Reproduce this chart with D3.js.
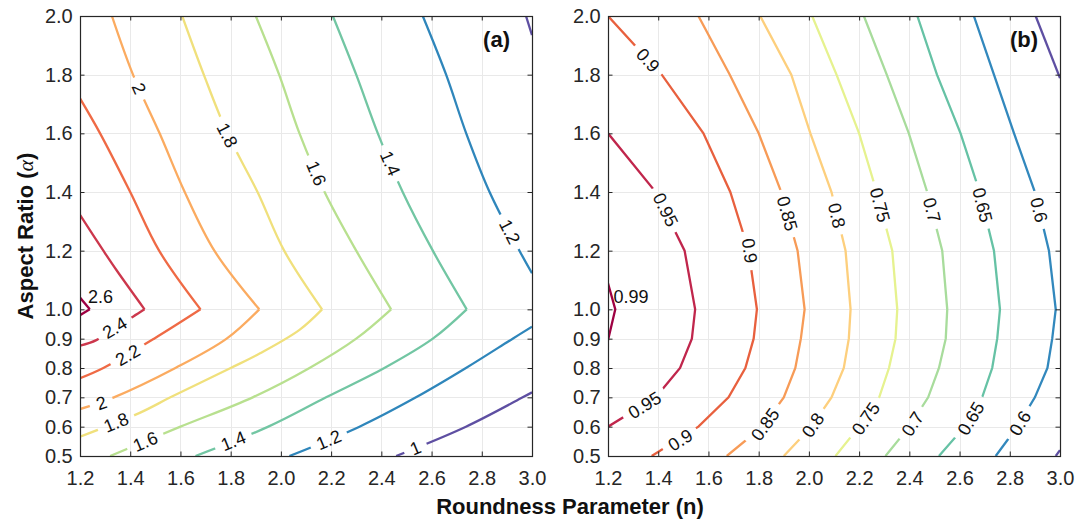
<!DOCTYPE html>
<html>
<head>
<meta charset="utf-8">
<script src="https://cdn.jsdelivr.net/npm/d3@7"></script>
<style>
  body { margin: 0; background: #fff; }
  svg { display: block; font-family: "Liberation Sans", Arial, Helvetica, sans-serif; }
</style>
</head>
<body>
<svg id="chart" width="1090" height="524"></svg>
<script>
// Axis ticks (n on x, alpha on y)
const xTicks = [1.2, 1.4, 1.6, 1.8, 2.0, 2.2, 2.4, 2.6, 2.8, 3.0];
const yTicks = [0.5, 0.6, 0.7, 0.8, 0.9, 1.0, 1.2, 1.4, 1.6, 1.8, 2.0];

// Panel (a): contour levels and iso-lines, points are [n, alpha]
const levelsA = [2.6, 2.4, 2.2, 2.0, 1.8, 1.6, 1.4, 1.2, 1.0];
const a26 = [[1.2, 1.04], [1.239, 1.0], [1.2, 0.98]];
const a24 = [[1.2, 1.322], [1.293, 1.2], [1.345, 1.134], [1.457, 1.0], [1.411, 0.975], [1.338, 0.938], [1.265, 0.895], [1.2, 0.876]];
const a22 = [[1.2, 1.719], [1.28, 1.6], [1.40, 1.4], [1.515, 1.2], [1.68, 1.0], [1.495, 0.9], [1.293, 0.8], [1.2, 0.765]];
const a20 = [[1.327, 2.0], [1.411, 1.8], [1.517, 1.6], [1.617, 1.4], [1.735, 1.2], [1.914, 1.0], [1.784, 0.9], [1.58, 0.8], [1.335, 0.7], [1.2, 0.66]];
const a18 = [[1.607, 2.0], [1.693, 1.8], [1.787, 1.6], [1.907, 1.4], [2.013, 1.2], [2.164, 1.0], [2.074, 0.93], [1.917, 0.85], [1.80, 0.8], [1.56, 0.7], [1.44, 0.648], [1.2, 0.566]];
const a16 = [[1.9, 2.0], [1.993, 1.8], [2.074, 1.6], [2.174, 1.4], [2.30, 1.2], [2.439, 1.0], [2.30, 0.9], [2.114, 0.8], [1.888, 0.7], [1.60, 0.6], [1.32, 0.5]];
const a14 = [[2.207, 2.0], [2.30, 1.8], [2.386, 1.6], [2.485, 1.4], [2.605, 1.2], [2.74, 1.0], [2.605, 0.9], [2.412, 0.8], [2.18, 0.7], [1.95, 0.6], [1.66, 0.5]];
const a12top = [[2.565, 2.0], [2.658, 1.8], [2.738, 1.6], [2.831, 1.4], [2.95, 1.2], [3.0, 1.123]];
const a12bot = [[3.0, 0.941], [2.923, 0.9], [2.737, 0.8], [2.538, 0.7], [2.313, 0.6], [2.034, 0.5]];
const a10top = [[2.976, 2.0], [3.0, 1.935]];
const a10bot = [[3.0, 0.717], [2.963, 0.7], [2.737, 0.6], [2.459, 0.5]];
const linesA = [[2.6, a26], [2.4, a24], [2.2, a22], [2.0, a20], [1.8, a18], [1.6, a16], [1.4, a14],
                [1.2, a12top], [1.2, a12bot], [1.0, a10top], [1.0, a10bot]];
// inline labels [level, n, alpha]
const labelsA = [[2.4, 1.338, 0.938], [2.2, 1.39, 0.845], [2.0, 1.436, 1.753], [2.0, 1.285, 0.682],
                 [1.8, 1.787, 1.594], [1.8, 1.343, 0.615], [1.6, 2.142, 1.464], [1.6, 1.46, 0.55],
                 [1.4, 2.436, 1.498], [1.4, 1.81, 0.552], [1.2, 2.912, 1.265], [1.2, 2.19, 0.556],
                 [1.0, 2.535, 0.528]];
const freeLabelsA = [[2.6, 1.282, 1.043]];
const colorsA = ['#9e0142', '#cc374c', '#ef6a45', '#fbab60', '#f0e07c', '#b8e08f', '#72c6a3', '#2f86bb', '#5e4fa2'];

// Panel (b): contour levels and iso-lines, points are [n, alpha]
const levelsB = [0.99, 0.95, 0.9, 0.85, 0.8, 0.75, 0.7, 0.65, 0.6, 0.55];
const b99 = [[1.2, 1.089], [1.229, 1.0], [1.2, 0.895]];
const b95 = [[1.2, 1.6], [1.39, 1.4], [1.505, 1.2], [1.547, 1.0], [1.534, 0.9], [1.487, 0.8], [1.39, 0.7], [1.2, 0.6]];
const b90 = [[1.2, 2.0], [1.414, 1.8], [1.58, 1.6], [1.687, 1.4], [1.76, 1.2], [1.793, 1.0], [1.78, 0.9], [1.747, 0.8], [1.68, 0.7], [1.56, 0.6], [1.374, 0.5]];
const b85 = [[1.56, 2.0], [1.685, 1.8], [1.80, 1.6], [1.89, 1.4], [1.955, 1.2], [1.983, 1.0], [1.968, 0.9], [1.946, 0.8], [1.9, 0.7], [1.815, 0.6], [1.673, 0.5]];
const b80 = [[1.806, 2.0], [1.93, 1.8], [2.006, 1.6], [2.09, 1.4], [2.146, 1.2], [2.166, 1.0], [2.159, 0.9], [2.139, 0.8], [2.09, 0.7], [2.01, 0.6], [1.9, 0.5]];
const b75 = [[2.013, 2.0], [2.11, 1.8], [2.2, 1.6], [2.27, 1.4], [2.332, 1.2], [2.352, 1.0], [2.345, 0.9], [2.319, 0.8], [2.28, 0.7], [2.2, 0.6], [2.106, 0.5]];
const b70 = [[2.219, 2.0], [2.31, 1.8], [2.398, 1.6], [2.471, 1.4], [2.531, 1.2], [2.551, 1.0], [2.545, 0.9], [2.518, 0.8], [2.475, 0.7], [2.40, 0.6], [2.305, 0.5]];
const b65 = [[2.432, 2.0], [2.51, 1.8], [2.604, 1.6], [2.68, 1.4], [2.737, 1.2], [2.761, 1.0], [2.75, 0.9], [2.73, 0.8], [2.69, 0.7], [2.62, 0.6], [2.518, 0.5]];
const b60 = [[2.657, 2.0], [2.737, 1.8], [2.817, 1.6], [2.90, 1.4], [2.956, 1.2], [2.983, 1.0], [2.969, 0.9], [2.95, 0.8], [2.9, 0.7], [2.83, 0.6], [2.744, 0.5]];
const b55top = [[2.903, 2.0], [3.0, 1.788]];
const b55bot = [[2.983, 0.5], [3.0, 0.52]];
const linesB = [[0.99, b99], [0.95, b95], [0.9, b90], [0.85, b85], [0.8, b80], [0.75, b75], [0.7, b70],
                [0.65, b65], [0.6, b60], [0.55, b55top], [0.55, b55bot]];
const labelsB = [[0.95, 1.43, 1.34], [0.95, 1.345, 0.674], [0.9, 1.36, 1.85], [0.9, 1.765, 1.2], [0.9, 1.487, 0.555],
                 [0.85, 1.915, 1.327], [0.85, 1.825, 0.608], [0.8, 2.112, 1.32], [0.8, 2.015, 0.606],
                 [0.75, 2.284, 1.356], [0.75, 2.226, 0.628], [0.7, 2.491, 1.339], [0.7, 2.412, 0.61],
                 [0.65, 2.692, 1.356], [0.65, 2.644, 0.628], [0.6, 2.917, 1.339], [0.6, 2.84, 0.612]];
const freeLabelsB = [[0.99, 1.292, 1.045]];
const colorsB = ['#9e0142', '#c0264c', '#e8603e', '#f79b57', '#fdcf7d', '#e6f28f', '#a8dc9c', '#66c2a5', '#3288bd', '#5e4fa2'];

// ---- drawing ----
const svg = d3.select('#chart');
const defs = svg.append('defs');
const W = 452, H = 440, TOP = 16;
const INK = '#262626';
const fmt = d3.format('.1f');

function drawPanel(cfg) {
  const x = d3.scaleLinear().domain([1.2, 3.0]).range([cfg.left, cfg.left + W]);
  const y = d3.scaleLinear().domain([0.5, 2.0]).range([TOP + H, TOP]);
  const g = svg.append('g');

  // grid
  const grid = g.append('g').attr('stroke', '#e9e9e9').attr('stroke-width', 1);
  grid.selectAll('line.vx').data(xTicks).join('line')
    .attr('x1', d => Math.round(x(d)) + 0.5).attr('x2', d => Math.round(x(d)) + 0.5)
    .attr('y1', TOP).attr('y2', TOP + H);
  grid.selectAll('line.hy').data(yTicks).join('line')
    .attr('y1', d => Math.round(y(d)) + 0.5).attr('y2', d => Math.round(y(d)) + 0.5)
    .attr('x1', cfg.left).attr('x2', cfg.left + W);

  // clip to plot box
  const clipId = 'clip-' + cfg.id;
  defs.append('clipPath').attr('id', clipId).append('rect')
    .attr('x', cfg.left).attr('y', TOP).attr('width', W).attr('height', H);

  const color = d3.scaleOrdinal().domain(cfg.levels).range(cfg.colors);

  // labels first, so their size can cut gaps in the lines
  const labG = g.append('g').attr('font-size', 18).attr('fill', '#111');
  const masks = new Map();
  cfg.levels.forEach((lv, i) => {
    const m = defs.append('mask').attr('id', `m-${cfg.id}-${i}`)
      .attr('maskUnits', 'userSpaceOnUse').attr('x', 0).attr('y', 0).attr('width', 1090).attr('height', 524);
    m.append('rect').attr('width', 1090).attr('height', 524).attr('fill', 'white');
    masks.set(lv, m);
  });

  cfg.labels.forEach(([lv, n, a]) => {
    const sx = x(n), sy = y(a);
    // direction of the nearest segment of this level
    let best = Infinity, ang = 0;
    cfg.lines.filter(l => l[0] === lv).forEach(([, pts]) => {
      for (let k = 0; k < pts.length - 1; k++) {
        const x1 = x(pts[k][0]), y1 = y(pts[k][1]), x2 = x(pts[k + 1][0]), y2 = y(pts[k + 1][1]);
        const dx = x2 - x1, dy = y2 - y1;
        const t = Math.max(0, Math.min(1, ((sx - x1) * dx + (sy - y1) * dy) / (dx * dx + dy * dy)));
        const d = Math.hypot(sx - (x1 + t * dx), sy - (y1 + t * dy));
        if (d < best) { best = d; ang = Math.atan2(dy, dx) * 180 / Math.PI; }
      }
    });
    if (ang > 90) ang -= 180;
    if (ang <= -90) ang += 180;
    const txt = labG.append('text')
      .attr('transform', `translate(${sx},${sy}) rotate(${ang})`)
      .attr('text-anchor', 'middle').attr('dy', '0.36em')
      .text(String(lv));
    const w = txt.node().getComputedTextLength();
    masks.get(lv).append('rect')
      .attr('x', -w / 2 - 7).attr('y', -9).attr('width', w + 14).attr('height', 18)
      .attr('fill', 'black')
      .attr('transform', `translate(${sx},${sy}) rotate(${ang})`);
  });
  cfg.free.forEach(([lv, n, a]) => {
    labG.append('text').attr('x', x(n)).attr('y', y(a)).attr('dy', '0.36em')
      .attr('text-anchor', 'middle').text(String(lv));
  });

  // contour lines
  const line = d3.line().x(d => x(d[0])).y(d => y(d[1])).curve(cfg.curve);
  const cg = g.insert('g', () => labG.node()).attr('clip-path', `url(#${clipId})`);
  cfg.levels.forEach((lv, i) => {
    const lg = cg.append('g').attr('mask', `url(#m-${cfg.id}-${i})`)
      .attr('fill', 'none').attr('stroke', color(lv)).attr('stroke-width', 2.3);
    cfg.lines.filter(l => l[0] === lv).forEach(([, pts]) => {
      if (cfg.split) {
        // sharp corner at the rightmost point; each side drawn smooth
        const k = d3.maxIndex(pts, p => p[0]);
        [pts.slice(0, k + 1), pts.slice(k)].forEach(br => {
          if (br.length > 1) lg.append('path').attr('d', line(br));
        });
      } else {
        lg.append('path').attr('d', line(pts));
      }
    });
  });

  // axes with inward ticks on all four sides
  const styleAxis = sel => {
    sel.select('.domain').remove();
    sel.selectAll('line').attr('stroke', INK);
    sel.selectAll('text').attr('font-size', 20).attr('fill', INK)
      .attr('font-family', '"Liberation Sans", Arial, Helvetica, sans-serif');
  };
  g.append('g').attr('transform', `translate(0,${TOP + H})`)
    .call(d3.axisBottom(x).tickValues(xTicks).tickFormat(fmt).tickSizeInner(-4.5).tickSizeOuter(0).tickPadding(14.8))
    .call(styleAxis);
  g.append('g').attr('transform', `translate(0,${TOP})`)
    .call(d3.axisTop(x).tickValues(xTicks).tickFormat('').tickSizeInner(-4.5).tickSizeOuter(0))
    .call(styleAxis);
  g.append('g').attr('transform', `translate(${cfg.left},0)`)
    .call(d3.axisLeft(y).tickValues(yTicks).tickFormat(fmt).tickSizeInner(-4.5).tickSizeOuter(0).tickPadding(7.3))
    .call(styleAxis);
  g.append('g').attr('transform', `translate(${cfg.left + W},0)`)
    .call(d3.axisRight(y).tickValues(yTicks).tickFormat('').tickSizeInner(-4.5).tickSizeOuter(0))
    .call(styleAxis);

  g.append('rect').attr('x', cfg.left + 0.5).attr('y', TOP + 0.5).attr('width', W).attr('height', H)
    .attr('fill', 'none').attr('stroke', INK).attr('stroke-width', 1.2);

  g.append('text').attr('x', cfg.left + W - 22).attr('y', 47)
    .attr('text-anchor', 'end').attr('font-size', 22).attr('font-weight', 'bold').attr('fill', '#111')
    .text(cfg.tag);
}

drawPanel({ id: 'a', left: 80, levels: levelsA, lines: linesA, labels: labelsA, free: freeLabelsA,
            colors: colorsA, curve: d3.curveCatmullRom.alpha(0.5), split: true, tag: '(a)' });
drawPanel({ id: 'b', left: 608, levels: levelsB, lines: linesB, labels: labelsB, free: freeLabelsB,
            colors: colorsB, curve: d3.curveLinear, split: false, tag: '(b)' });

// axis titles
const yl = svg.append('text')
  .attr('transform', 'translate(33,236) rotate(-90)')
  .attr('text-anchor', 'middle').attr('font-size', 22).attr('font-weight', 'bold').attr('fill', '#111');
yl.append('tspan').text('Aspect Ratio (');
yl.append('tspan').attr('font-family', '"Liberation Serif", "DejaVu Serif", serif')
  .attr('font-style', 'italic').attr('font-weight', 'normal').text('α');
yl.append('tspan').text(')');

svg.append('text').attr('x', 570).attr('y', 514)
  .attr('text-anchor', 'middle').attr('font-size', 22).attr('font-weight', 'bold').attr('fill', '#111')
  .text('Roundness Parameter (n)');
</script>
</body>
</html>
